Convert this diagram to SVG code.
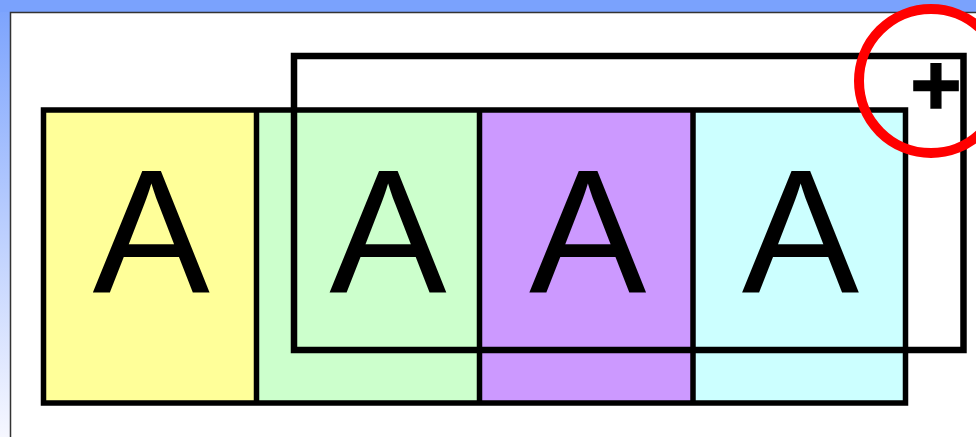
<svg xmlns="http://www.w3.org/2000/svg" width="976" height="437" viewBox="0 0 976 437">
<defs>
<linearGradient id="bg" x1="0" y1="0" x2="0" y2="1">
<stop offset="0" stop-color="#7aa2fd"/>
<stop offset="1" stop-color="#f6f7ff"/>
</linearGradient>
<style>
.cell{stroke:none}
.line{fill:none;stroke:#000;stroke-width:5.5}
.big{font-family:"Liberation Sans",Arial,sans-serif;font-size:176px;fill:#000;text-anchor:middle}
.plus{font-family:"Liberation Sans",Arial,sans-serif;font-size:88px;font-weight:bold;fill:#000;stroke:#000;stroke-width:1.5;text-anchor:middle}
</style>
</defs>
<rect x="0" y="0" width="976" height="437" fill="url(#bg)"/>
<rect x="0" y="0" width="976" height="12" fill="#7aa2fd"/>
<rect id="panel" x="10.5" y="12.5" width="980" height="440" fill="#fff" stroke="#333" stroke-width="1.5"/>
<g id="cell1"><rect class="cell" x="43.5" y="110" width="213" height="293" fill="#ffff99"/><text class="big" x="151.3" y="293.3">A</text></g>
<g id="cell2"><rect class="cell" x="256.5" y="110" width="223" height="293" fill="#ccffcc"/><text class="big" x="388" y="293.3">A</text></g>
<g id="cell3"><rect class="cell" x="479.5" y="110" width="213.5" height="293" fill="#cc99ff"/><text class="big" x="587.7" y="293.3">A</text></g>
<g id="cell4"><rect class="cell" x="693" y="110" width="212.5" height="293" fill="#ccffff"/><text class="big" x="800.5" y="293.3">A</text></g>
<g id="connectors">
<rect class="line" x="43.5" y="110" width="862" height="293"/>
<line class="line" x1="256.5" y1="110" x2="256.5" y2="403"/>
<line class="line" x1="479.5" y1="110" x2="479.5" y2="403"/>
<line class="line" x1="693" y1="110" x2="693" y2="403"/>
</g>
<g id="overlay"><rect x="294" y="56" width="669.5" height="294" fill="none" stroke="#000" stroke-width="6.5"/></g>
<g id="plus"><text class="plus" x="936" y="115">+</text></g>
<g id="highlight"><circle cx="931" cy="81" r="72" fill="none" stroke="#ff0000" stroke-width="10"/></g>
</svg>
